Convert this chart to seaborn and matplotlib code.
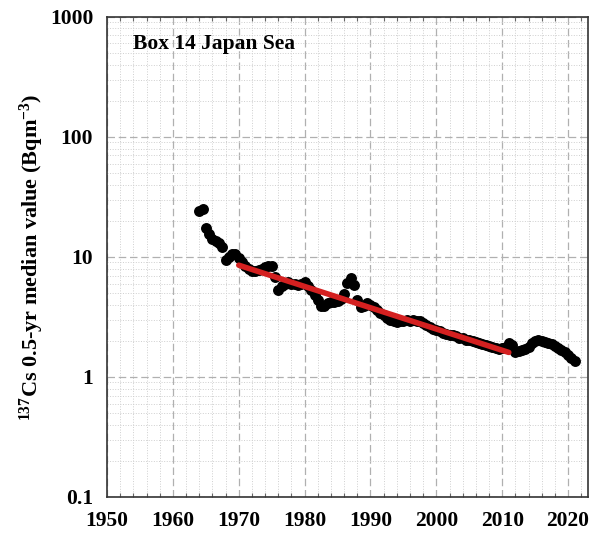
import numpy as np
import pandas as pd
import matplotlib
matplotlib.use('Agg')
import matplotlib.pyplot as plt
import matplotlib.ticker as mticker
import seaborn as sns

# half-year median values
years = [1964.0, 1964.5, 1965.0, 1965.5, 1966.0, 1966.5, 1967.0, 1967.5, 1968.0, 1968.5,
         1969.0, 1969.5, 1970.0, 1970.5, 1971.0, 1971.5, 1972.0, 1972.5, 1973.0, 1973.5,
         1974.0, 1974.5, 1975.0, 1975.5, 1976.0, 1976.5, 1977.0, 1977.5, 1978.0, 1978.5,
         1979.0, 1979.5, 1980.0, 1980.5, 1981.0, 1981.5, 1982.0, 1982.5, 1983.0, 1983.5,
         1984.0, 1984.5, 1985.0, 1985.5, 1986.0, 1986.5, 1987.0, 1987.5, 1988.0, 1988.5,
         1989.0, 1989.5, 1990.0, 1990.5, 1991.0, 1991.5, 1992.0, 1992.5, 1993.0, 1993.5,
         1994.0, 1994.5, 1995.0, 1995.5, 1996.0, 1996.5, 1997.0, 1997.5, 1998.0, 1998.5,
         1999.0, 1999.5, 2000.0, 2000.5, 2001.0, 2001.5, 2002.0, 2002.5, 2003.0, 2003.5,
         2004.0, 2004.5, 2005.0, 2005.5, 2006.0, 2006.5, 2007.0, 2007.5, 2008.0, 2008.5,
         2009.0, 2009.5, 2010.0, 2010.5, 2011.0, 2011.5, 2012.0, 2012.5, 2013.0, 2013.5,
         2014.0, 2014.5, 2015.0, 2015.5, 2016.0, 2016.5, 2017.0, 2017.5, 2018.0, 2018.5,
         2019.0, 2019.5, 2020.0, 2020.5, 2021.0]
cs137 = [24, 25, 17.5, 15.5, 14, 13.5, 13, 12, 9.4, 10,
         10.5, 10.6, 9.8, 9.0, 8.4, 8.0, 7.7, 7.6, 7.8, 8.0,
         8.3, 8.4, 8.4, 6.8, 5.3, 5.7, 6.0, 6.2, 6.0, 5.9,
         5.8, 6.0, 6.2, 5.7, 5.3, 4.8, 4.4, 3.9, 3.9, 4.1,
         4.2, 4.2, 4.3, 4.5, 4.9, 6.1, 6.7, 5.8, 4.4, 3.8,
         3.9, 4.1, 4.0, 3.8, 3.6, 3.4, 3.3, 3.1, 3.0, 2.9,
         2.85, 2.9, 2.95, 3.0, 2.95, 3.0, 2.95, 2.9, 2.8, 2.7,
         2.6, 2.5, 2.45, 2.4, 2.32, 2.3, 2.25, 2.22, 2.18, 2.12,
         2.1, 2.05, 2.02, 1.98, 1.96, 1.92, 1.88, 1.85, 1.82, 1.78,
         1.74, 1.72, 1.75, 1.78, 1.92, 1.85, 1.62, 1.64, 1.68, 1.72,
         1.78, 1.92, 2.0, 2.03, 2.0, 1.96, 1.93, 1.88, 1.82, 1.75,
         1.68, 1.6, 1.52, 1.44, 1.37]
fit_start, fit_end = 1970, 2011

df = pd.DataFrame({'year': years, 'cs': cs137})

# exponential fit (linear in log space) over 1970-2011
sub = df[(df.year >= fit_start) & (df.year <= fit_end)]
b, a = np.polyfit(sub.year, np.log10(sub.cs), 1)
fit = pd.DataFrame({'year': [fit_start, fit_end]})
fit['cs'] = 10 ** (a + b * fit.year)

sns.set_style('white')
plt.rcParams['font.family'] = ['Liberation Serif', 'DejaVu Serif']
plt.rcParams['font.weight'] = 'bold'
plt.rcParams['text.color'] = 'black'
plt.rcParams['axes.labelcolor'] = 'black'
plt.rcParams['xtick.color'] = 'black'
plt.rcParams['ytick.color'] = 'black'
plt.rcParams['mathtext.fontset'] = 'custom'
plt.rcParams['mathtext.rm'] = 'Liberation Serif:bold'
plt.rcParams['mathtext.bf'] = 'Liberation Serif:bold'
plt.rcParams['mathtext.default'] = 'bf'

fig = plt.figure(figsize=(5.98, 5.44), dpi=100)
ax = fig.add_axes([0.179, 0.0864, 0.804, 0.8826])

sns.scatterplot(data=df, x='year', y='cs', ax=ax, color='black', s=62,
                edgecolor='black', linewidth=0, zorder=3, legend=False)
sns.lineplot(data=fit, x='year', y='cs', ax=ax, color='#d42020', lw=4, zorder=4)

ax.set_yscale('log')
ax.set_xlim(1950, 2023)
ax.set_ylim(0.1, 1000)
ax.xaxis.set_major_locator(mticker.MultipleLocator(10))
ax.xaxis.set_minor_locator(mticker.MultipleLocator(2))
ax.yaxis.set_major_locator(mticker.LogLocator(base=10))
ax.yaxis.set_minor_locator(mticker.LogLocator(base=10, subs=np.arange(2, 10)))
ax.yaxis.set_major_formatter(mticker.FuncFormatter(lambda v, p: f'{v:g}'))
ax.yaxis.set_minor_formatter(mticker.NullFormatter())

ax.grid(which='minor', color='#cfcfcf', ls=':', lw=0.7)
ax.grid(which='major', color='#b0b0b0', ls=(0, (6, 3)), lw=0.9)
ax.set_axisbelow(True)

ax.tick_params(which='major', direction='out', length=5, width=1, color='#333333',
               labelsize=15.5, pad=5, top=False, right=False)
ax.tick_params(axis='x', which='minor', direction='in', length=3, width=0.8,
               color='#666666', top=True, bottom=True)
ax.tick_params(axis='y', which='minor', length=0)
for lab in ax.get_xticklabels() + ax.get_yticklabels():
    lab.set_fontweight('bold')
for sp in ax.spines.values():
    sp.set_color('#333333')
    sp.set_linewidth(1.2)

ax.set_xlabel('')
ax.set_ylabel(r'$^{137}$Cs 0.5-yr median value (Bqm$^{-3}$)', fontsize=16,
              fontweight='bold', labelpad=3)
ax.text(0.054, 0.943, 'Box 14 Japan Sea', transform=ax.transAxes, fontsize=15.5,
        fontweight='bold', va='center', ha='left')

fig.savefig('out.png', dpi=100)
